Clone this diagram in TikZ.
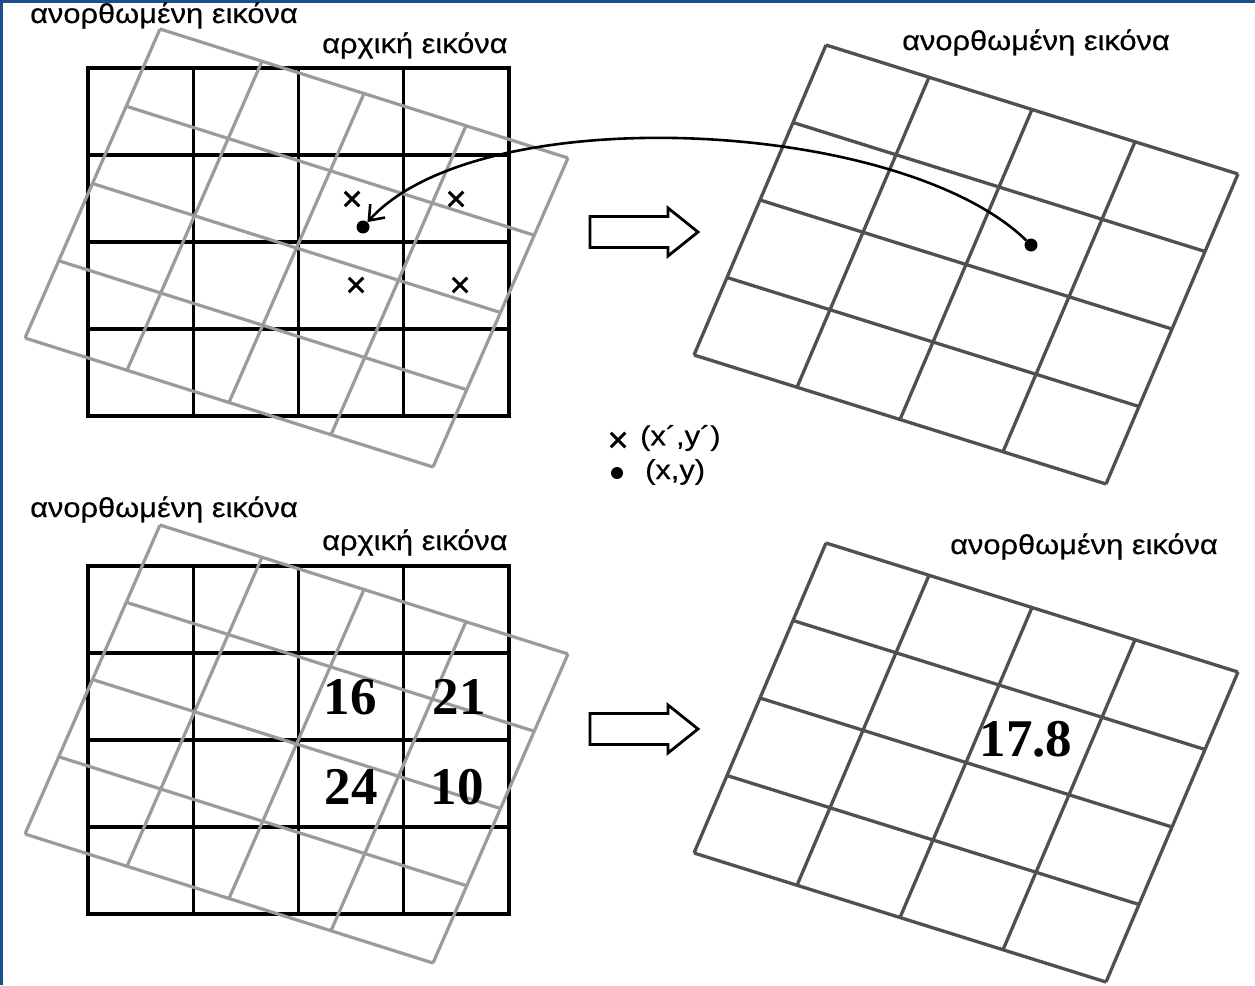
\documentclass[tikz,border=0pt]{standalone}
\usepackage{fontspec}
\setmainfont{Liberation Sans}
\newfontfamily\lblfont[FakeStretch=1.12,FakeBold=0.4]{Liberation Sans}
\newfontfamily\numfont{Liberation Serif}
\usetikzlibrary{calc,arrows.meta,shapes.misc}
\definecolor{frameblue}{RGB}{31,78,140}
\definecolor{lightgrid}{RGB}{155,155,155}
\definecolor{darkgrid}{RGB}{80,80,80}
\begin{document}
\begin{tikzpicture}[x=1pt,y=-1pt,
  lbl/.style={anchor=base west,inner sep=0pt,font=\lblfont\fontsize{27.5}{30}\selectfont},
  num/.style={inner sep=0pt,font=\numfont\bfseries\fontsize{53}{56}\selectfont},
  blackgrid/.style={line width=3.2pt,black,line cap=rect},
  graygrid/.style={line width=3.2pt,lightgrid,line join=miter},
  rgrid/.style={line width=3.3pt,darkgrid},
  xmark/.style={cross out,draw=black,line width=3pt,minimum size=11.5pt,inner sep=0pt},
  pdot/.style={circle,fill=black,inner sep=0pt,minimum size=13pt},
  blockarrow/.style={draw=black,fill=white,line width=2.8pt,line join=miter}]
\useasboundingbox (0,0) rectangle (1255,985);
\fill[white] (0,0) rectangle (1255,985);
\fill[frameblue] (0,0) rectangle (3,985);
\fill[frameblue] (0,0) rectangle (1255,2.5);

% ---------- left panels: black (original) grids ----------
\foreach \dy in {0,498}{
  \foreach \x in {88,193.25,298.5,403.75,509}
    \draw[blackgrid] (\x,68+\dy) -- (\x,416+\dy);
  \foreach \y in {68,155,242,329,416}
    \draw[blackgrid] (88,\y+\dy) -- (509,\y+\dy);
}

% ---------- left panels: gray (rectified) grids ----------
\foreach \dy in {0,496}{
  \coordinate (T) at (160,29+\dy);
  \foreach \i in {0,...,4}{
    \draw[graygrid] ($(T)+\i*(102,32.25)$) -- ($(T)+\i*(102,32.25)+4*(-33.75,77.25)$);
    \draw[graygrid] ($(T)+\i*(-33.75,77.25)$) -- ($(T)+\i*(-33.75,77.25)+4*(102,32.25)$);
  }
}

% ---------- right panels: rectified grids ----------
\foreach \dy in {0,498}{
  \coordinate (R) at (826,45+\dy);
  \foreach \i in {0,...,4}{
    \draw[rgrid] ($(R)+\i*(103,32.25)$) -- ($(R)+\i*(103,32.25)+4*(-33,77.5)$);
    \draw[rgrid] ($(R)+\i*(-33,77.5)$) -- ($(R)+\i*(-33,77.5)+4*(103,32.25)$);
  }
}

% ---------- labels ----------
\node[lbl] (l1) at (30,23) {ανορθωμένη εικόνα};
\node[lbl] (l2) at (322,53) {αρχική εικόνα};
\node[lbl] (l3) at (902,50) {ανορθωμένη εικόνα};
\node[lbl] (l4) at (30,517) {ανορθωμένη εικόνα};
\node[lbl] (l5) at (322,550) {αρχική εικόνα};
\node[lbl] (l6) at (950,554) {ανορθωμένη εικόνα};

% ---------- block arrows ----------
\draw[blockarrow] (590,216.5) -- (668,216.5) -- (668,208) -- (698,232) -- (668,256) -- (668,247.5) -- (590,247.5) -- cycle;
\draw[blockarrow] (590,713.5) -- (668,713.5) -- (668,705) -- (698,729) -- (668,753) -- (668,744.5) -- (590,744.5) -- cycle;

% ---------- markers ----------
\node[xmark] (c1) at (352,199) {};
\node[xmark] (c2) at (456,199) {};
\node[xmark] (c3) at (356,285) {};
\node[xmark] (c4) at (460,285) {};
\node[pdot] (ldot) at (363,227) {};
\node[pdot] (rdot) at (1031,245) {};
\draw[line width=2.6pt,-{Straight Barb[length=13pt,width=20pt,line width=2.6pt]}]
  (rdot) .. controls (900,118) and (480,98) .. (ldot);

% ---------- legend ----------
\node[xmark] (lx) at (618,440) {};
\node[anchor=west,inner sep=0pt,font=\lblfont\fontsize{27.5}{30}\selectfont] (lxt) at (640,438) {(x´,y´)};
\node[pdot,minimum size=12pt] (ld) at (617,473) {};
\node[anchor=west,inner sep=0pt,font=\lblfont\fontsize{27.5}{30}\selectfont] (ldt) at (645,472) {(x,y)};

% ---------- numbers ----------
\node[num] (n16) at (350,697) {16};
\node[num] (n21) at (459,697) {21};
\node[num] (n24) at (351,787) {24};
\node[num] (n10) at (457,787) {10};
\node[num] (n178) at (1026,739) {17.8};
\end{tikzpicture}
\end{document}
